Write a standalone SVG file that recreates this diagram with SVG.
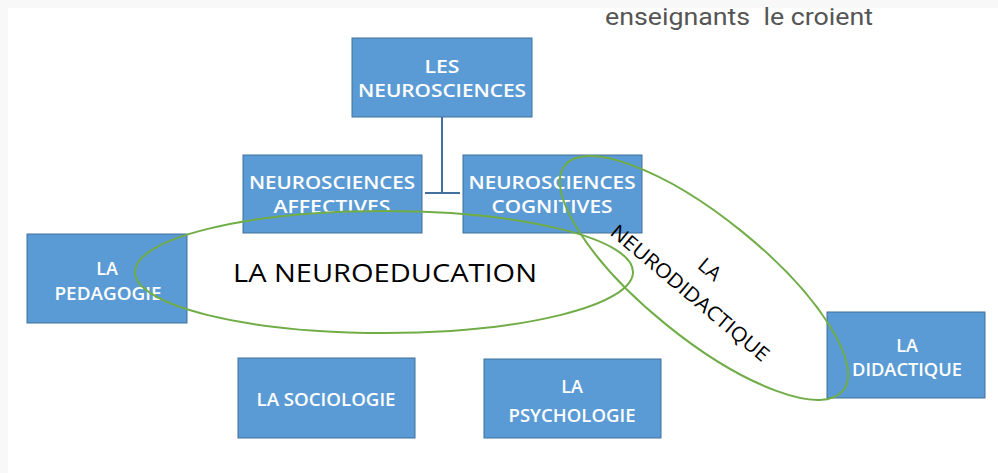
<svg xmlns="http://www.w3.org/2000/svg" width="998" height="473" viewBox="0 0 998 473">
<style>
.box{fill:#5b9bd5;stroke:#41719c;stroke-width:1}
.bt{font-family:"Open Sans","Liberation Sans",sans-serif;font-size:18px;font-weight:600;fill:#ffffff;text-anchor:middle}
.lbl{font-family:"Open Sans","Liberation Sans",sans-serif;fill:#000000;text-anchor:middle}
.ell{fill:none;stroke:#70ad47;stroke-width:2}
.conn{stroke:#41719c;stroke-width:2;fill:none}
</style>
<defs>
<clipPath id="ellclip"><ellipse cx="384" cy="272" rx="249" ry="61"/></clipPath>
</defs>
<rect x="0" y="0" width="998" height="473" fill="#ffffff"/>
<rect x="0" y="0" width="998" height="8" fill="#f8f8f8"/>
<rect x="0" y="0" width="8" height="473" fill="#f8f8f8"/>
<text x="605" y="25" font-family="Roboto,'Liberation Sans',sans-serif" font-size="23.5" fill="#555555" textLength="268" lengthAdjust="spacingAndGlyphs" xml:space="preserve">enseignants  le croient</text>

<g id="connectors">
<line class="conn" x1="442" y1="117" x2="442" y2="193"/>
<line class="conn" x1="425" y1="193" x2="460" y2="193"/>
</g>

<g id="les-neurosciences">
<rect class="box" x="352" y="38" width="180" height="79"/>
<text class="bt" x="442" y="73" textLength="35" lengthAdjust="spacingAndGlyphs">LES</text>
<text class="bt" x="442" y="97" textLength="168" lengthAdjust="spacingAndGlyphs">NEUROSCIENCES</text>
</g>

<g id="neurosciences-affectives">
<rect class="box" x="243" y="155" width="179" height="78"/>
<text class="bt" x="332" y="189" textLength="166" lengthAdjust="spacingAndGlyphs">NEUROSCIENCES</text>
<text class="bt" x="332" y="213" textLength="117" lengthAdjust="spacingAndGlyphs">AFFECTIVES</text>
<rect x="244" y="156" width="177" height="76" fill="#5b9bd5" clip-path="url(#ellclip)"/>
</g>

<g id="neurosciences-cognitives">
<rect class="box" x="463" y="155" width="179" height="78"/>
<text class="bt" x="552" y="189" textLength="167" lengthAdjust="spacingAndGlyphs">NEUROSCIENCES</text>
<text class="bt" x="552" y="213" textLength="121" lengthAdjust="spacingAndGlyphs">COGNITIVES</text>
</g>

<g id="la-pedagogie">
<rect class="box" x="27" y="234" width="160" height="89"/>
<text class="bt" x="107" y="275">LA</text>
<text class="bt" x="108" y="300" textLength="107" lengthAdjust="spacingAndGlyphs">PEDAGOGIE</text>
</g>

<g id="la-sociologie">
<rect class="box" x="238" y="358" width="177" height="80"/>
<text class="bt" x="326" y="406" textLength="139" lengthAdjust="spacingAndGlyphs">LA SOCIOLOGIE</text>
</g>

<g id="la-psychologie">
<rect class="box" x="484" y="359" width="177" height="79"/>
<text class="bt" x="572" y="393">LA</text>
<text class="bt" x="572" y="422" textLength="127" lengthAdjust="spacingAndGlyphs">PSYCHOLOGIE</text>
</g>

<g id="la-didactique">
<rect class="box" x="827" y="312" width="158" height="86"/>
<text class="bt" x="907" y="352">LA</text>
<text class="bt" x="907" y="376" textLength="110" lengthAdjust="spacingAndGlyphs">DIDACTIQUE</text>
</g>

<g id="la-neuroeducation">
<ellipse class="ell" cx="384" cy="272" rx="249" ry="61"/>
<text class="lbl" x="385" y="282" font-size="26" textLength="304" lengthAdjust="spacingAndGlyphs">LA NEUROEDUCATION</text>
</g>

<g id="la-neurodidactique">
<ellipse class="ell" cx="704" cy="278" rx="179" ry="60" transform="rotate(39 704 278)"/>
<g transform="translate(690,293) rotate(40)">
<text class="lbl" x="0" y="-24" font-size="20">LA</text>
<text class="lbl" x="0" y="7" font-size="20" textLength="200" lengthAdjust="spacingAndGlyphs">NEURODIDACTIQUE</text>
</g>
</g>
</svg>
